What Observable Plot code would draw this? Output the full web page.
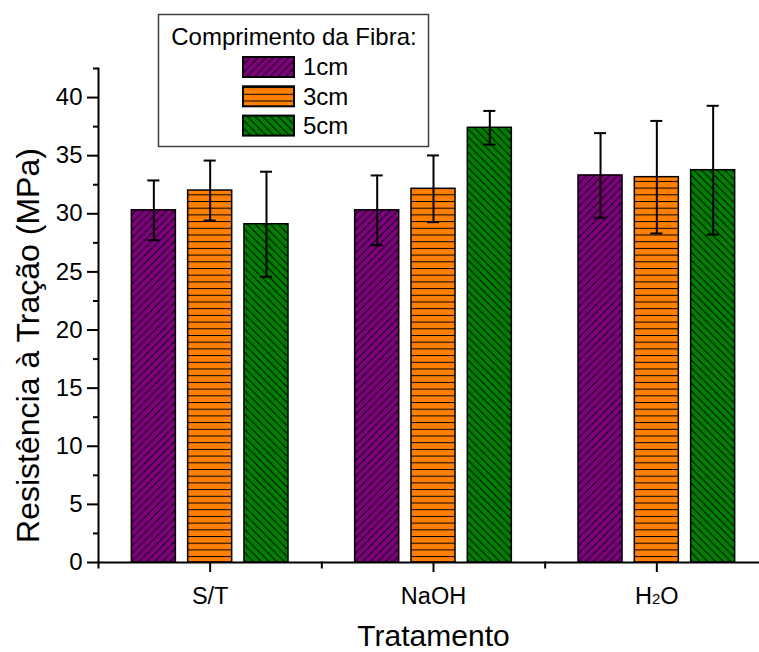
<!DOCTYPE html>
<html>
<head>
<meta charset="utf-8">
<script src="https://cdn.jsdelivr.net/npm/d3@7"></script>
<script src="https://cdn.jsdelivr.net/npm/@observablehq/plot@0.6"></script>
<style>
  html, body { margin: 0; padding: 0; background: white; overflow: hidden; }
  #chart { position: relative; width: 759px; height: 652px; }
</style>
</head>
<body>
<div id="chart"></div>
<script>
// ---------- data ----------
const treatments = ["S/T", "NaOH", "H₂O"];
const lengths = ["1cm", "3cm", "5cm"];
const means1cm = [30.3, 30.3, 33.3];
const means3cm = [32.0, 32.15, 33.15];
const means5cm = [29.1, 37.4, 33.75];
const sd1cm = [2.57, 3.0, 3.64];
const sd3cm = [2.58, 2.87, 4.84];
const sd5cm = [4.52, 1.45, 5.54];
const yMajorTicks = [0, 5, 10, 15, 20, 25, 30, 35, 40];
const yMinorTicks = [2.5, 7.5, 12.5, 17.5, 22.5, 27.5, 32.5, 37.5, 42.5];
const yDomain = [0, 42.5];
const legendTitle = "Comprimento da Fibra:";
const xTitle = "Tratamento";
const yTitle = "Resistência à Tração (MPa)";
const colors = ["#800080", "#FF8000", "#008000"];

const means = [means1cm, means3cm, means5cm];
const sds = [sd1cm, sd3cm, sd5cm];
const data = treatments.flatMap((t, i) => lengths.map((l, j) => ({
  treatment: t, length: l, mean: means[j][i], sd: sds[j][i]
})));

const FONT = "'Liberation Sans', Arial, Helvetica, sans-serif";
const W = 759, H = 652, mL = 98, mR = -9, mT = 68, mB = 90;
const patternIds = lengths.map((l, i) => "hatch" + i);
const patternUrls = patternIds.map(id => `url(#${id})`);

const svg = Plot.plot({
  width: W, height: H,
  marginLeft: mL, marginRight: mR, marginTop: mT, marginBottom: mB,
  style: { fontFamily: FONT, color: "black", background: "white", overflow: "visible" },
  fx: { domain: treatments, padding: 0, round: false, label: null },
  x: { domain: lengths, paddingInner: 0.218, paddingOuter: 0.592, round: false, axis: null },
  y: { domain: yDomain },
  color: { domain: lengths, range: patternUrls },
  marks: [
    Plot.barY(data, { fx: "treatment", x: "length", y: "mean", fill: "length", stroke: "black", strokeWidth: 1.5 }),
    Plot.ruleX(data, { fx: "treatment", x: "length", y1: d => d.mean - d.sd, y2: d => d.mean + d.sd, stroke: "black", strokeWidth: 2 }),
    Plot.tickY(data, { fx: "treatment", x: "length", y: d => d.mean - d.sd, insetLeft: 16, insetRight: 16, stroke: "black", strokeWidth: 2 }),
    Plot.tickY(data, { fx: "treatment", x: "length", y: d => d.mean + d.sd, insetLeft: 16, insetRight: 16, stroke: "black", strokeWidth: 2 }),
    Plot.ruleY([0], { stroke: "black", strokeWidth: 2 }),
    Plot.frame({ anchor: "left", facetAnchor: "left", stroke: "black", strokeWidth: 2 }),
    Plot.frame({ anchor: "left", stroke: "black", strokeWidth: 2, insetTop: H - mT - mB, insetBottom: -5 }),
    Plot.axisY({ ticks: yMajorTicks, tickSize: 11, tickPadding: 5, fontSize: 24, label: null, strokeWidth: 2, tickFormat: d => String(d) }),
    Plot.axisY({ ticks: yMinorTicks, tickSize: 5, text: null, label: null, strokeWidth: 2 }),
    Plot.axisFx({ anchor: "bottom", tickSize: 10, tickPadding: 15, fontSize: 23.5, label: null, strokeWidth: 2 }),
    Plot.text([yTitle], { facet: "super", frameAnchor: "left", textAnchor: "middle", lineAnchor: "middle", rotate: -90, dx: -70, dy: 30, fontSize: 32 }),
    Plot.text([xTitle], { facet: "super", frameAnchor: "bottom", textAnchor: "middle", lineAnchor: "middle", dy: 74, fontSize: 30 })
  ]
});

const root = d3.select(svg);
// hatch patterns
const defs = root.insert("defs", ":first-child");
const patternSpec = [
  { w: 7.7, h: 7.7, d: "M0,7.7 L7.7,0 M-1,1 L1,-1 M6.7,8.7 L8.7,6.7" },
  { w: 10, h: 6.7, d: "M0,0.5 L10,0.5" },
  { w: 7.7, h: 7.7, d: "M0,0 L7.7,7.7 M-1,6.7 L1,8.7 M6.7,-1 L8.7,1" }
];
patternIds.forEach((id, i) => {
  const p = defs.append("pattern").attr("id", id).attr("patternUnits", "userSpaceOnUse")
    .attr("width", patternSpec[i].w).attr("height", patternSpec[i].h);
  p.append("rect").attr("width", patternSpec[i].w).attr("height", patternSpec[i].h).attr("fill", colors[i]);
  p.append("path").attr("d", patternSpec[i].d).attr("stroke", "black").attr("stroke-width", 1).attr("fill", "none");
});

// subscript in H2O
root.selectAll("text").filter(function () { return this.textContent === "H₂O"; }).each(function () {
  const t = d3.select(this);
  t.text("");
  t.append("tspan").text("H");
  t.append("tspan").attr("font-size", "15px").text("2");
  t.append("tspan").text("O");
});

// legend box (inside plot area)
const lg = root.append("g").attr("font-family", FONT).attr("fill", "black").attr("text-anchor", "start");
lg.append("rect").attr("x", 158.5).attr("y", 14.5).attr("width", 270).attr("height", 132)
  .attr("fill", "white").attr("stroke", "#404040").attr("stroke-width", 1.5);
lg.append("text").attr("x", 294).attr("y", 45).attr("text-anchor", "middle").attr("font-size", 24).text(legendTitle);
lengths.forEach((l, i) => {
  const y0 = 57 + i * 29.3;
  lg.append("rect").attr("x", 243).attr("y", y0).attr("width", 51).attr("height", 20)
    .attr("fill", patternUrls[i]).attr("stroke", "black").attr("stroke-width", 2);
  lg.append("text").attr("x", 303).attr("y", y0 + 18.3).attr("text-anchor", "start").attr("font-size", 24).text(l);
});

document.getElementById("chart").appendChild(svg);
</script>
</body>
</html>
